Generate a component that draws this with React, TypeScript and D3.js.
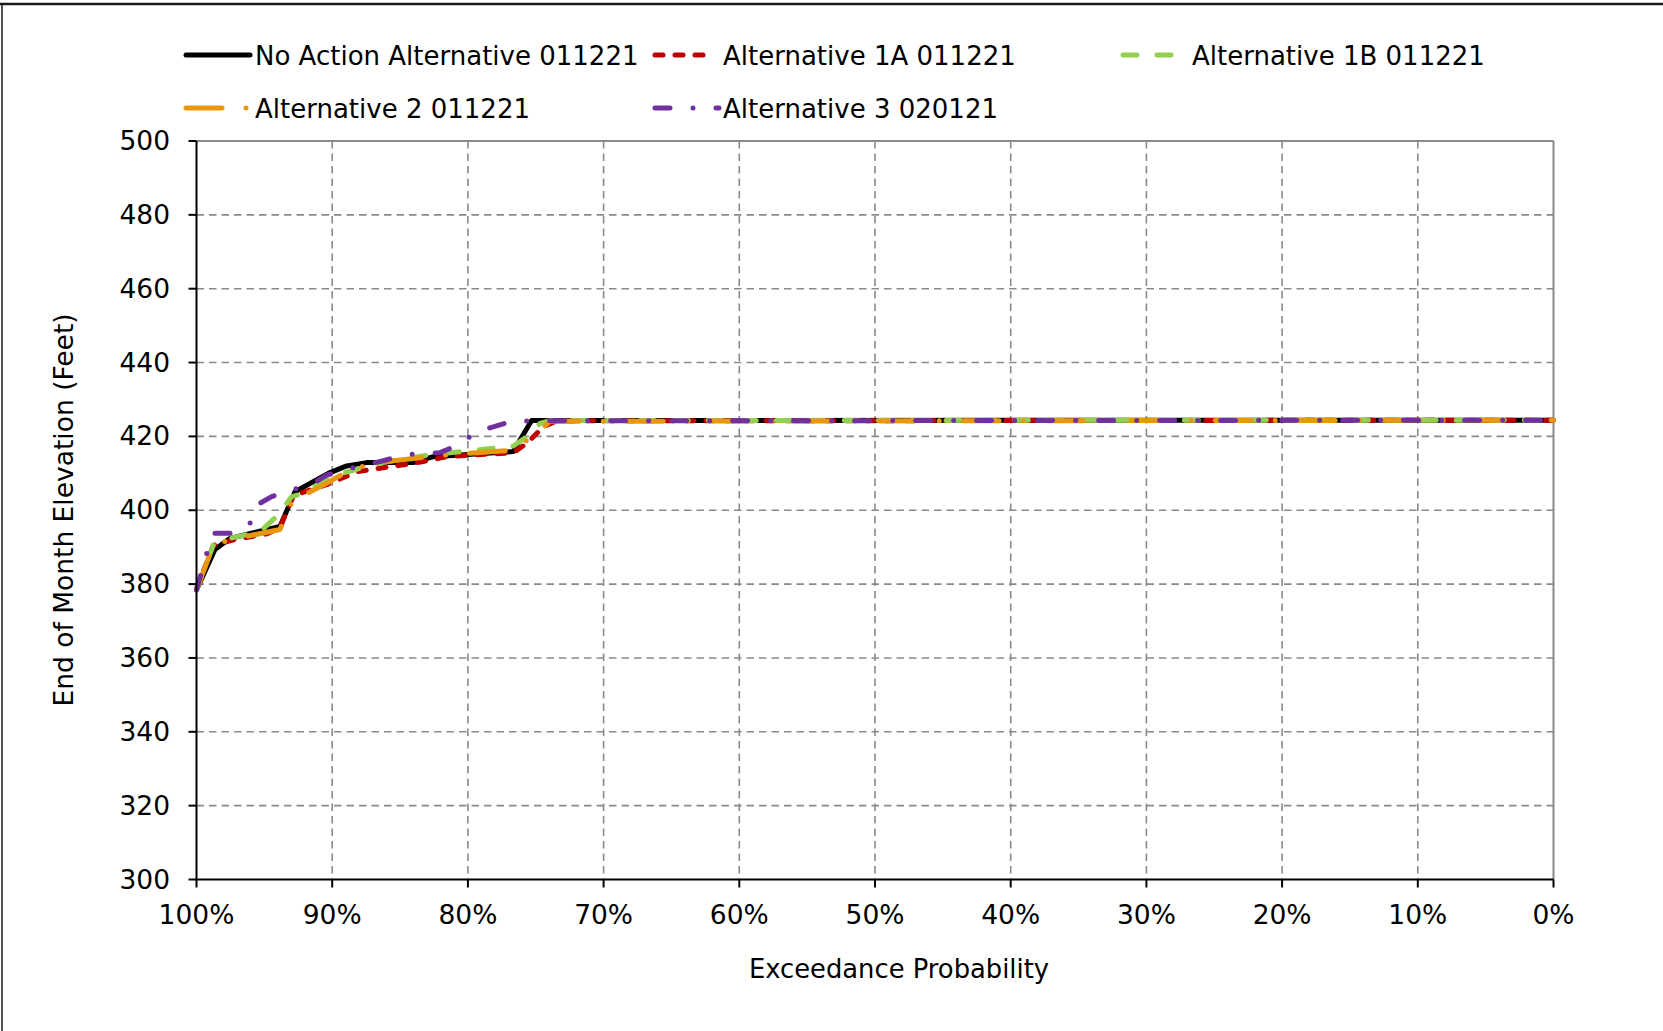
import React from "react";
import * as d3 from "d3";

// ---- Data (exceedance probability %, end-of-month elevation ft) ----
const xTicks = [100, 90, 80, 70, 60, 50, 40, 30, 20, 10, 0];
const yTicks = [300, 320, 340, 360, 380, 400, 420, 440, 460, 480, 500];

const noActionX = [100, 98.64, 97.53, 93.85, 92.74, 90.29, 88.93, 87.46, 84.02, 82.55, 76.65, 76.16, 75.3, 0];
const noActionY = [378.4, 389.4, 392.4, 395.6, 405.0, 410.0, 412.0, 412.9, 412.9, 414.5, 415.9, 419.0, 424.3, 424.4];

const alt1AX = [100, 98.76, 97.16, 94.83, 93.85, 92.87, 91.64, 90.29, 88.2, 86.48, 84.02, 81.56, 76.65, 75.67, 74.44, 73.46, 0];
const alt1AY = [378.7, 390.5, 392.1, 393.6, 395.3, 403.9, 405.5, 407.1, 410.4, 411.4, 412.7, 414.5, 415.6, 418.1, 422.6, 424.2, 424.4];

const alt1BX = [100, 98.76, 97.53, 95.32, 94.1, 92.98, 91.88, 90.29, 88.2, 86.0, 82.8, 76.65, 75.67, 74.69, 73.9, 0];
const alt1BY = [378.4, 390.6, 392.4, 394.2, 398.3, 403.7, 404.8, 408.9, 411.1, 413.2, 415.0, 417.4, 419.9, 423.5, 424.3, 424.4];

const alt2X = [100, 98.76, 97.53, 93.85, 92.74, 91.75, 90.41, 88.45, 85.5, 81.56, 76.65, 76.16, 74.93, 73.95, 0];
const alt2Y = [378.4, 390.6, 392.0, 394.8, 404.1, 404.8, 407.3, 411.4, 413.4, 415.0, 416.3, 417.7, 420.8, 424.1, 424.4];

const alt3X = [100, 99.25, 98.76, 97.29, 96.06, 95.32, 94.46, 92.98, 91.39, 90.41, 88.93, 86.23, 84.76, 82.06, 80.58, 79.35, 78.13, 76.65, 0];
const alt3Y = [378.4, 388.3, 393.8, 393.8, 396.5, 401.9, 403.7, 405.5, 407.3, 409.5, 411.1, 413.4, 415.0, 415.6, 417.9, 421.3, 422.6, 424.2, 424.4];

const seriesNames = [
  "No Action Alternative 011221",
  "Alternative 1A 011221",
  "Alternative 1B 011221",
  "Alternative 2 011221",
  "Alternative 3 020121",
];
const seriesX = [noActionX, alt1AX, alt1BX, alt2X, alt3X];
const seriesY = [noActionY, alt1AY, alt1BY, alt2Y, alt3Y];
const seriesColors = ["#000000", "#c00000", "#92d050", "#e8970f", "#7030a0"];
const seriesDash = ["none", "8,12", "14,20", "36,24,0,24", "15,23,0,23"];

// ---- Layout ----
const W = 1663;
const H = 1031;
const X0 = 196.5;
const X1 = 1553.5;
const Y0 = 879.5;
const Y1 = 141;
const FONT = "'DejaVu Sans', Verdana, sans-serif";
const LW = 5;

const legendItems = [
  { x1: 186, x2: 250, tx: 255, y: 55 },
  { x1: 655, x2: 711, tx: 723, y: 55 },
  { x1: 1123, x2: 1175, tx: 1192, y: 55 },
  { x1: 186, x2: 250, tx: 255, y: 108 },
  { x1: 655, x2: 719, tx: 723, y: 108 },
];

export default function App() {
  const x = d3.scaleLinear().domain([100, 0]).range([X0, X1]);
  const y = d3.scaleLinear().domain([300, 500]).range([Y0, Y1]);

  const paths = seriesX.map((xs, i) => {
    const pts: [number, number][] = xs.map((v, j) => [x(v), y(seriesY[i][j])]);
    return d3.line()(pts) || "";
  });

  return (
    <svg
      width={W}
      height={H}
      style={{ position: "absolute", left: 0, top: 0, background: "#fff" }}
      fontFamily={FONT}
    >
      <rect x={0} y={0} width={W} height={H} fill="#fff" />
      {/* outer border */}
      <line x1={0} y1={4} x2={W} y2={4} stroke="#1a1a1a" strokeWidth={2.5} />
      <line x1={2} y1={4} x2={2} y2={H} stroke="#1a1a1a" strokeWidth={1.5} />

      {/* grid */}
      {yTicks
        .filter((t) => t !== 300 && t !== 500)
        .map((t) => (
          <line
            key={"gy" + t}
            x1={X0}
            x2={X1}
            y1={y(t)}
            y2={y(t)}
            stroke="#8a8a8a"
            strokeWidth={1.6}
            strokeDasharray="7.5,5"
          />
        ))}
      {xTicks
        .filter((t) => t !== 100 && t !== 0)
        .map((t) => (
          <line
            key={"gx" + t}
            x1={x(t)}
            x2={x(t)}
            y1={Y1}
            y2={Y0}
            stroke="#8a8a8a"
            strokeWidth={1.6}
            strokeDasharray="7.5,5"
          />
        ))}
      {/* plot frame top/right */}
      <line x1={X0} x2={X1} y1={y(500)} y2={y(500)} stroke="#8a8a8a" strokeWidth={2} />
      <line x1={x(0)} x2={x(0)} y1={Y1} y2={Y0} stroke="#8a8a8a" strokeWidth={2} />

      {/* series */}
      {paths.map((d, i) => (
        <path
          key={"s" + i}
          d={d}
          fill="none"
          stroke={seriesColors[i]}
          strokeWidth={LW}
          strokeDasharray={seriesDash[i]}
          strokeLinecap={i === 0 ? "butt" : "round"}
          strokeLinejoin="round"
        />
      ))}

      {/* axes */}
      <line x1={X0} x2={X0} y1={Y1} y2={Y0 + 1} stroke="#000" strokeWidth={2} />
      <line x1={X0} x2={X1} y1={Y0} y2={Y0} stroke="#000" strokeWidth={2} />
      {yTicks.map((t) => (
        <g key={"ty" + t}>
          <line x1={X0 - 8} x2={X0} y1={y(t)} y2={y(t)} stroke="#000" strokeWidth={2} />
          <text x={170} y={y(t) + 9} textAnchor="end" fontSize={26.5} fill="#000">
            {t}
          </text>
        </g>
      ))}
      {xTicks.map((t) => (
        <g key={"tx" + t}>
          <line x1={x(t)} x2={x(t)} y1={Y0} y2={Y0 + 8} stroke="#000" strokeWidth={2} />
          <text x={x(t)} y={924} textAnchor="middle" fontSize={26.5} fill="#000">
            {t + "%"}
          </text>
        </g>
      ))}

      {/* axis titles */}
      <text x={899} y={978} textAnchor="middle" fontSize={25.8} fill="#000">
        Exceedance Probability
      </text>
      <text
        transform={`translate(73,510) rotate(-90)`}
        textAnchor="middle"
        fontSize={26.5}
        fill="#000"
      >
        End of Month Elevation (Feet)
      </text>

      {/* legend */}
      {legendItems.map((it, i) => (
        <g key={"lg" + i}>
          <line
            x1={it.x1}
            x2={it.x2}
            y1={it.y}
            y2={it.y}
            stroke={seriesColors[i]}
            strokeWidth={LW}
            strokeDasharray={seriesDash[i]}
            strokeLinecap="round"
          />
          <text x={it.tx} y={it.y + 9.5} fontSize={26} fill="#000">
            {seriesNames[i]}
          </text>
        </g>
      ))}
    </svg>
  );
}
